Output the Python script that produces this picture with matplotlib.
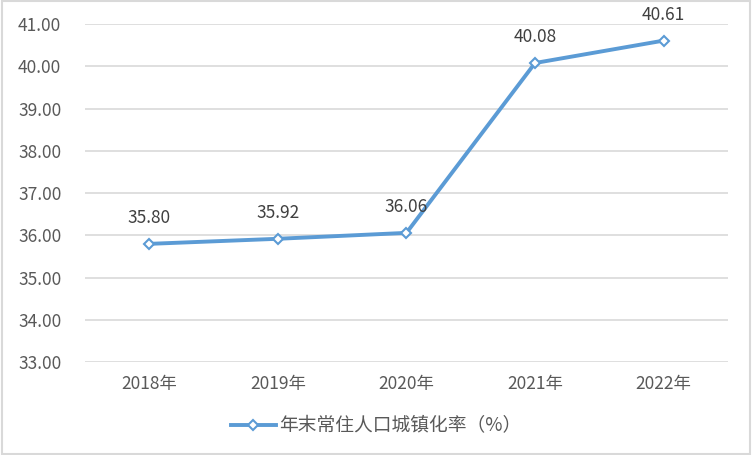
import matplotlib
matplotlib.use("Agg")
import matplotlib.pyplot as plt
from matplotlib.patches import Rectangle

plt.rcParams['font.family'] = ['Noto Sans CJK SC', 'DejaVu Sans']

years = ["2018年", "2019年", "2020年", "2021年", "2022年"]
rate = [35.80, 35.92, 36.06, 40.08, 40.61]
series_name = "年末常住人口城镇化率（%）"

BLUE = "#5B9BD5"
GRID = "#D9D9D9"
TXT = "#595959"

fig = plt.figure(figsize=(7.52, 4.55), dpi=100)
ax = fig.add_axes([0.113, 0.204, 0.855, 0.743])

x = list(range(len(years)))
ax.plot(x, rate, color=BLUE, lw=2.8, marker="D", ms=5.5,
        mfc="white", mec=BLUE, mew=1.5, label=series_name, zorder=3)
for xi, v in zip(x, rate):
    ax.annotate(f"{v:.2f}", (xi, v), xytext=(0, 12), textcoords="offset points",
                ha="center", va="bottom", fontsize=12.5, color="#404040")

ax.set_xlim(-0.5, len(years) - 0.5)
ax.set_ylim(33, 41)
ax.set_yticks(range(33, 42))
ax.set_yticklabels([f"{v:.2f}" for v in range(33, 42)])
ax.set_xticks(x)
ax.set_xticklabels(years)
ax.tick_params(length=0, labelsize=12.5, colors=TXT)
ax.tick_params(axis="y", pad=17)
ax.tick_params(axis="x", pad=9)
ax.grid(axis="y", color=GRID, lw=1.2)
ax.set_axisbelow(True)
for s in ax.spines.values():
    s.set_visible(False)

leg = fig.legend(loc="center", bbox_to_anchor=(0.5, 0.064), frameon=False,
                 fontsize=13.5, handlelength=2.4, handletextpad=0.2,
                 labelcolor=TXT)

fig.patches.append(Rectangle((0.002, 0.003), 0.996, 0.994, transform=fig.transFigure,
                             fill=False, edgecolor=GRID, lw=1.5))

fig.savefig("out.png", dpi=100)
